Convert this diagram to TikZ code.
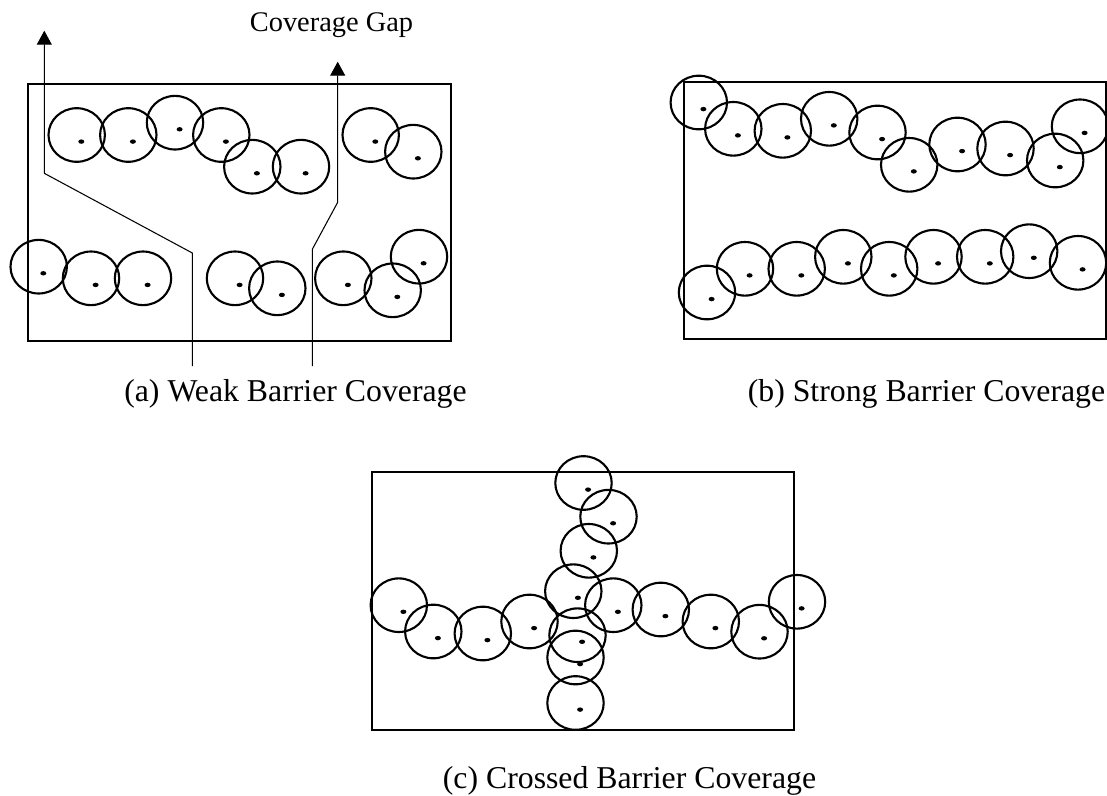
\documentclass[tikz,border=0pt]{standalone}
\usepackage{fontspec}
\setmainfont{Liberation Serif}
\usetikzlibrary{shapes.geometric,arrows.meta}

\begin{document}
\begin{tikzpicture}[
      x=0.025cm, y=-0.025cm,
      sensor/.style={ellipse, draw, line width=1.5pt, inner sep=0pt,
        minimum width=1.41cm, minimum height=1.34cm},
      punktf/.style={fill=black},
      feld/.style={line width=1.7pt},
      linet/.style={line width=0.75pt,
        -{Triangle[width=0.375cm,length=0.35cm]}},
      titel/.style={anchor=base, inner sep=0pt,
        font=\fontsize{22.6}{27}\selectfont}
    ]
    \useasboundingbox (0,0) rectangle (1107,796);

    % (a) weak barrier
    \draw[feld] (28,84) rectangle (451,341);
    \foreach \x/\y [count=\i] in {76.7/135, 128.3/135, 175/122.7, 221.3/135,
        252.3/166.7, 301/166.7, 370.7/135, 413.3/151.7, 38.7/266.7, 91/278.3,
        143/278.3, 235/278.3, 277.3/288.3, 343.3/278.3, 392.7/290.3, 419/256.7}
      {\path (\x,\y) node(a\i) [sensor] {};
       \fill[punktf] ([shift={(4.6,6.6)}]a\i.center) ellipse [x radius=3, y radius=2.2];}

    \path (192.3,366) coordinate(ga0) (192.3,253) coordinate(ga1)
          (44.3,173.3) coordinate(ga2) (44.3,30.7) coordinate(ga3);
    \path (312.3,366) coordinate(gb0) (312.3,249.3) coordinate(gb1)
          (337.7,202.3) coordinate(gb2) (337.7,61.7) coordinate(gb3);
    \draw[linet] (ga0) -- (ga1) -- (ga2) -- (ga3);
    \draw[linet] (gb0) -- (gb1) -- (gb2) -- (gb3);
    \path (331.5,31.7) node(gap) [titel, font=\fontsize{20.2}{24}\selectfont] {Coverage Gap};

    % (b) strong barrier
    \draw[feld] (684,82) rectangle (1106,339);
    \foreach \x/\y [count=\i] in {698.8/102.5, 733.3/128.8, 782.8/130.8, 829.2/118.8,
        877.5/132.5, 909.2/164.8, 957.5/144.5, 1005.5/148.5, 1055.2/160.5,
        1080/126.3, 707/292.5, 745/268.8, 796.7/268.8, 843.3/256.8, 889.2/268.8,
        933.5/256.8, 985.2/256.8, 1029.2/251.2, 1078/262.8}
      {\path (\x,\y) node(b\i) [sensor] {};
       \fill[punktf] ([shift={(4.6,6.6)}]b\i.center) ellipse [x radius=3, y radius=2.2];}

    % (c) crossed barrier
    \draw[feld] (372,472) rectangle (794,730);
    \foreach \x/\y [count=\i] in {583.5/483, 608.5/516.7, 588.8/550.8, 573.3/591.2,
        577.5/635.2, 575.5/657.5, 575.5/703, 398.8/605.2, 433.3/631.5,
        482.8/633.5, 529.5/621.5, 613.3/605.2, 660.8/609.5, 710.8/621.5,
        759.5/631.7, 797/601.8}
      {\path (\x,\y) node(c\i) [sensor] {};
       \fill[punktf] ([shift={(4.6,6.6)}]c\i.center) ellipse [x radius=3, y radius=2.2];}

    \path (295.5,401.5) node(capa) [titel] {(a) Weak Barrier Coverage}
          (926.5,401.5) node(capb) [titel] {(b) Strong Barrier Coverage}
          (629.5,788.5) node(capc) [titel] {(c) Crossed Barrier Coverage};
  \end{tikzpicture}
\end{document}
